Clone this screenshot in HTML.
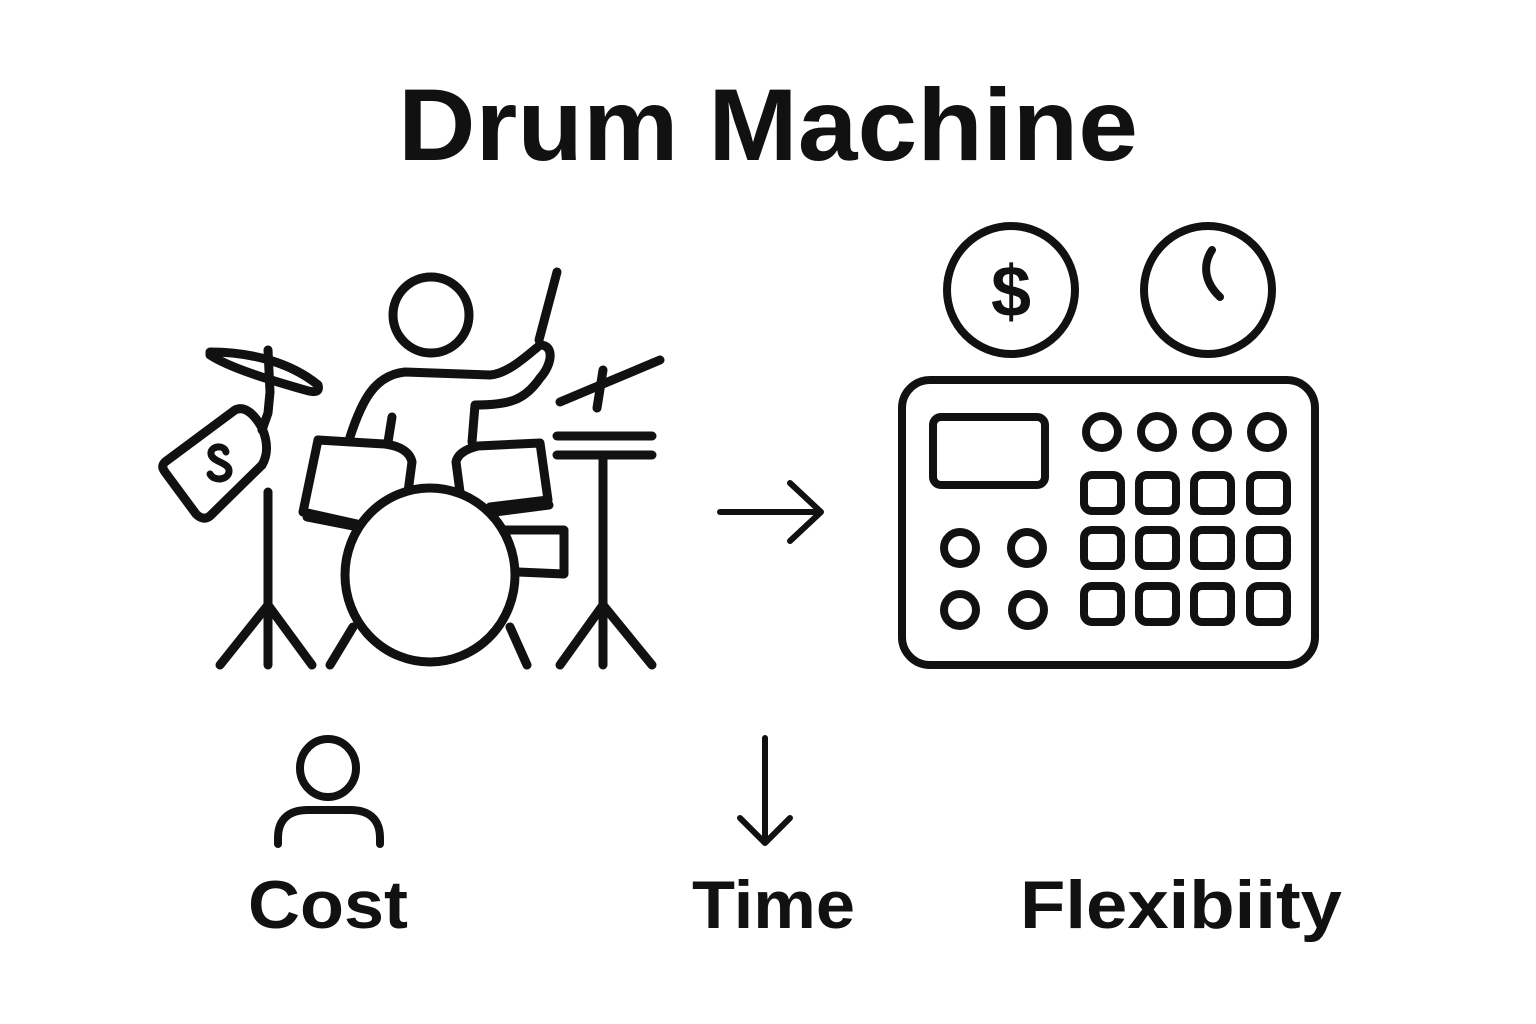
<!DOCTYPE html>
<html><head><meta charset="utf-8"><style>
html,body{margin:0;padding:0;background:#fff;}
svg{display:block;}
text{font-family:"Liberation Sans",sans-serif;font-weight:bold;fill:#111;}
</style></head><body>
<svg width="1536" height="1024" viewBox="0 0 1536 1024" xmlns="http://www.w3.org/2000/svg">
<rect width="1536" height="1024" fill="#fff"/>
<text x="398" y="160" font-size="102" textLength="740" lengthAdjust="spacingAndGlyphs">Drum Machine</text>

<g fill="none" stroke="#111" stroke-width="9" stroke-linecap="round" stroke-linejoin="round">
<circle cx="431" cy="315" r="38"/>
<line x1="557" y1="272" x2="539" y2="340"/>
<path d="M350 437 C362 400 375 375 405 372 L490 375 C505 374 520 362 540 345 C555 345 552 365 540 378 C525 400 510 405 475 405 L472 442"/>
<line x1="388" y1="442" x2="392" y2="417"/>
<path d="M210 352 C250 352 290 362 318 385 C320 392 315 393 305 390 C270 380 230 368 210 355 Z"/>
<path d="M268 350 L270 392 L268 413 L262 430"/>
<path d="M165 462 L235 410 C245 405 255 415 262 428 C268 442 268 455 262 465 L210 516 C205 520 200 518 196 514 L165 472 C162 468 162 465 165 462 Z"/>
<path d="M226 452 C224 444 210 446 211 454 C212 462 228 462 229 470 C230 480 214 482 210 474" stroke-width="7"/>
<line x1="268" y1="492" x2="268" y2="665"/>
<line x1="268" y1="605" x2="220" y2="665"/>
<line x1="268" y1="605" x2="312" y2="665"/>
<path d="M318 440 L385 444 C400 446 410 452 412 462 L408 492"/>
<path d="M318 440 L303 512 L357 524"/>
<line x1="307" y1="517" x2="358" y2="527"/>
<path d="M460 492 L456 462 C458 452 470 448 478 446 L540 443 L548 500 L490 507"/>
<line x1="495" y1="512" x2="549" y2="505"/>
<path d="M505 530 L564 530 L564 574 L518 572"/>
<ellipse cx="430" cy="575" rx="85" ry="87" fill="#fff"/>
<line x1="353" y1="627" x2="330" y2="665"/>
<line x1="510" y1="627" x2="527" y2="665"/>
<line x1="560" y1="402" x2="660" y2="360"/>
<line x1="603" y1="370" x2="597" y2="408"/>
<line x1="557" y1="436" x2="652" y2="436"/>
<line x1="557" y1="455" x2="652" y2="455"/>
<line x1="603" y1="455" x2="603" y2="665"/>
<line x1="603" y1="605" x2="560" y2="665"/>
<line x1="603" y1="605" x2="652" y2="665"/>
</g>

<g fill="none" stroke="#111" stroke-width="6" stroke-linecap="round" stroke-linejoin="round">
<line x1="720" y1="512" x2="820" y2="512"/>
<polyline points="790,483 821,512 790,541"/>
<line x1="765" y1="738" x2="765" y2="842"/>
<polyline points="740,818 765,843 790,818"/>
</g>
<g fill="none" stroke="#111" stroke-width="8" stroke-linecap="round" stroke-linejoin="round">
<ellipse cx="328" cy="768" rx="28" ry="29"/>
<path d="M278 844 L278 838 C278 818 290 810 308 810 L350 810 C368 810 380 818 380 838 L380 844"/>
</g>

<g fill="none" stroke="#111" stroke-width="8" stroke-linecap="round" stroke-linejoin="round">
<circle cx="1011" cy="290" r="64"/>
<circle cx="1208" cy="290" r="64"/>
<path d="M1212 250 C1204 262 1202 280 1220 297"/>
<rect x="902" y="380" width="413" height="285" rx="28"/>
<rect x="933" y="417" width="112" height="68" rx="8"/>
<circle cx="1102" cy="432" r="16"/><circle cx="1157" cy="432" r="16"/><circle cx="1212" cy="432" r="16"/><circle cx="1267" cy="432" r="16"/>
<rect x="1084" y="475" width="37" height="36" rx="8"/><rect x="1139" y="475" width="37" height="36" rx="8"/><rect x="1194" y="475" width="37" height="36" rx="8"/><rect x="1250" y="475" width="37" height="36" rx="8"/>
<rect x="1084" y="530" width="37" height="36" rx="8"/><rect x="1139" y="530" width="37" height="36" rx="8"/><rect x="1194" y="530" width="37" height="36" rx="8"/><rect x="1250" y="530" width="37" height="36" rx="8"/>
<rect x="1084" y="586" width="37" height="36" rx="8"/><rect x="1139" y="586" width="37" height="36" rx="8"/><rect x="1194" y="586" width="37" height="36" rx="8"/><rect x="1250" y="586" width="37" height="36" rx="8"/>
<circle cx="960" cy="548" r="16"/><circle cx="1027" cy="548" r="16"/>
<circle cx="960" cy="610" r="16"/><circle cx="1028" cy="610" r="16"/>
</g>
<text x="1011" y="316" font-size="72" text-anchor="middle">$</text>

<text x="248" y="928" font-size="68" textLength="160" lengthAdjust="spacingAndGlyphs">Cost</text>
<text x="692" y="928" font-size="68" textLength="163" lengthAdjust="spacingAndGlyphs">Time</text>
<text x="1020" y="928" font-size="68" textLength="322" lengthAdjust="spacingAndGlyphs">Flexibiity</text>
</svg>
</body></html>
